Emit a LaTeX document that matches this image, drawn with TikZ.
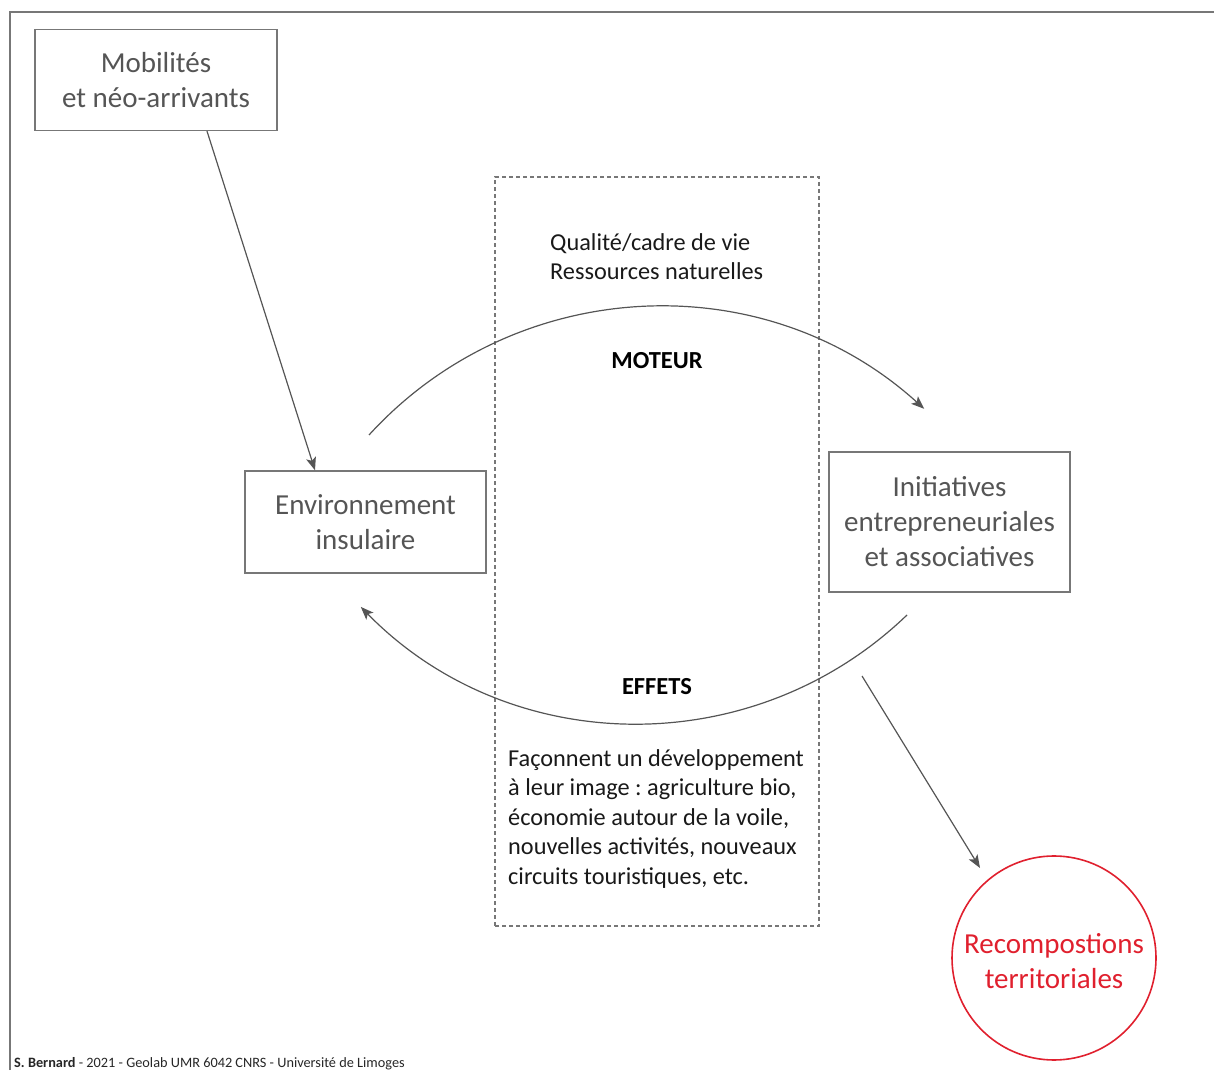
\documentclass[tikz,border=0pt]{standalone}
\usepackage{fontspec}
\setmainfont{Carlito}
\usepackage{xcolor}
\usetikzlibrary{positioning,arrows.meta}
\definecolor{lineg}{HTML}{555555}
\definecolor{boxg}{HTML}{777777}
\definecolor{recred}{HTML}{E0202E}
\frenchspacing

\begin{document}
\begin{tikzpicture}[x=1pt,y=1pt,
  box/.style={rectangle,draw=boxg,line width=1.3pt,text=lineg,align=center,
    font=\fontsize{29}{35}\selectfont,inner sep=0pt},
  rec/.style={circle,draw=recred,line width=1.6pt,text=recred,align=center,
    font=\fontsize{29}{35}\selectfont,minimum size=204pt,inner sep=0pt},
  txt/.style={align=left,text=black!90,font=\fontsize{24.3}{29.5}\selectfont,inner sep=0pt},
  lbl/.style={font=\fontsize{24.5}{28}\selectfont\bfseries,text=black,inner sep=0pt},
  fleche/.style={draw=lineg,line width=1.2pt,-{Stealth[length=13pt,width=10pt,inset=3pt]}},
  >=Stealth]
  \useasboundingbox (0,0) rectangle (1214,1070);
  % frame
  \draw[boxg,line width=1.3pt] (10,0) -- (10,1058) -- (1214,1058);
  % central zone
  \draw[boxg,line width=1.2pt,dash pattern=on 4pt off 3pt] (495,144) rectangle (819,893);
  % nodes
  \node[box,minimum width=242pt,minimum height=101pt] (mob) at (156,990) {Mobilités\\et néo-arrivants};
  \node[box,minimum width=241pt,minimum height=102pt] (env) at (365.5,548) {Environnement\\insulaire};
  \node[box,minimum width=241pt,minimum height=140pt] (init) at (949.5,548) {Initiatives\\entrepreneuriales\\et associatives};
  \node[rec] (recomp) at (1054,112) {};
  \node[align=center,text=recred,font=\fontsize{29}{35}\selectfont,inner sep=0pt] (recomptxt) at (1054,109) {Recompostions\\territoriales};
  \node[txt,anchor=west] (ressources) at (550,813.5) {Qualité/cadre de vie\\Ressources naturelles};
  \node[lbl] (moteur) at (657,709) {MOTEUR};
  \node[lbl] (effets) at (657,383) {EFFETS};
  \node[txt,anchor=west] (developpement) at (508,251) {Façonnent un développement\\à leur image : agriculture bio,\\économie autour de la voile,\\nouvelles activités, nouveaux\\circuits touristiques, etc.};
  \node[anchor=west,inner sep=0pt,font=\fontsize{14.3}{16}\selectfont,text=black!85] (credit) at (14,6)
    {\textbf{S. Bernard} - 2021 - Geolab UMR 6042 CNRS - Université de Limoges};
  % connectors
  \draw[fleche] ([xshift=51pt]mob.south) -- ([xshift=-50.5pt]env.north);
  \coordinate (moteurdep) at (369,635);
  \draw[fleche] (moteurdep) arc[start angle=137.6,end angle=47.8,radius=393.7];
  \coordinate (effetsdep) at (907,455);
  \draw[fleche] (effetsdep) arc[start angle=-46.1,end angle=-135.6,radius=388];
  \coordinate (recdep) at (862,394);
  \coordinate (recarr) at (980,202);
  \draw[fleche] (recdep) -- (recarr);
\end{tikzpicture}
\end{document}
